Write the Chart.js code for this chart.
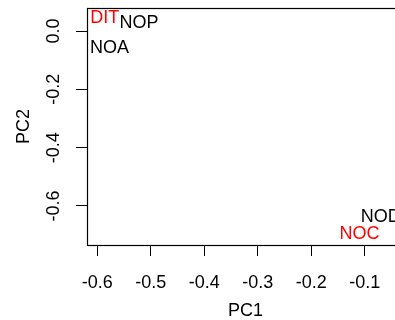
<!DOCTYPE html>
<html>
<head>
<meta charset="utf-8">
<script src="https://cdn.jsdelivr.net/npm/chart.js@4/dist/chart.umd.min.js"></script>
<style>
html,body{margin:0;padding:0;background:#fff;overflow:hidden;width:395px;height:320px;}
canvas{display:block;}
</style>
</head>
<body>
<canvas id="c" width="420" height="320" style="width:420px;height:320px"></canvas>
<script>
// Data
const names = ["DIT", "NOP", "NOA", "NOD", "NOC"];
const pc1 = [-0.586, -0.522, -0.577, -0.070, -0.110];
const pc2 = [0.044, 0.029, -0.059, -0.637, -0.698];
const labelColors = ["#ff0000", "#000000", "#000000", "#000000", "#ff0000"];
const xTicks = [-0.6, -0.5, -0.4, -0.3, -0.2, -0.1];
const yTicks = [0.0, -0.2, -0.4, -0.6];

const FONT = '"Liberation Sans", Arial, Helvetica, sans-serif';

const points = names.map((n, i) => ({x: pc1[i], y: pc2[i]}));

const boxPlugin = {
  id: 'boxAndLabels',
  afterDraw(chart) {
    const ctx = chart.ctx;
    const a = chart.chartArea;
    const ys = chart.scales.y;
    ctx.save();
    // plot box
    ctx.strokeStyle = '#000';
    ctx.lineWidth = 1.2;
    ctx.strokeRect(Math.round(a.left) + 0.5, Math.round(a.top) + 0.5,
                   Math.round(a.right - a.left), Math.round(a.bottom - a.top));
    // y tick labels, rotated like R
    ctx.fillStyle = '#000';
    ctx.font = '18px ' + FONT;
    ctx.textAlign = 'center';
    ctx.textBaseline = 'middle';
    yTicks.forEach(v => {
      const py = ys.getPixelForValue(v);
      ctx.save();
      ctx.translate(54, py);
      ctx.rotate(-Math.PI / 2);
      ctx.fillText(v.toFixed(1), 0, 0);
      ctx.restore();
    });
    // point labels
    const meta = chart.getDatasetMeta(0);
    meta.data.forEach((el, i) => {
      ctx.fillStyle = labelColors[i];
      ctx.fillText(names[i], el.x, el.y);
    });
    ctx.restore();
  }
};

new Chart(document.getElementById('c'), {
  type: 'scatter',
  data: {
    datasets: [{
      data: points,
      pointRadius: 0,
      pointHoverRadius: 0,
      showLine: false
    }]
  },
  options: {
    responsive: false,
    animation: false,
    events: [],
    layout: {padding: {top: 8, right: 16, left: 0, bottom: 0}},
    plugins: {legend: {display: false}, tooltip: {enabled: false}},
    scales: {
      x: {
        type: 'linear',
        min: -0.6193,
        max: -0.0267,
        afterBuildTicks: s => { s.ticks = xTicks.map(v => ({value: v})); },
        afterFit: s => { s.height = 75; },
        border: {display: false},
        grid: {drawOnChartArea: false, drawTicks: true, tickLength: 11, color: '#000', tickColor: '#000', lineWidth: 1},
        ticks: {
          color: '#000',
          font: {size: 18, family: FONT},
          padding: 16,
          maxRotation: 0,
          minRotation: 0,
          autoSkip: false,
          callback: v => Number(v).toFixed(1)
        },
        title: {display: true, text: 'PC1', color: '#000', font: {size: 18, family: FONT}, padding: {top: 0, bottom: -2}}
      },
      y: {
        type: 'linear',
        min: -0.734,
        max: 0.0789,
        afterBuildTicks: s => { s.ticks = yTicks.map(v => ({value: v})); },
        afterFit: s => { s.width = 87; },
        border: {display: false},
        grid: {drawOnChartArea: false, drawTicks: true, tickLength: 11, color: '#000', tickColor: '#000', lineWidth: 1},
        ticks: {display: false},
        title: {display: true, text: 'PC2', color: '#000', font: {size: 18, family: FONT}, padding: {top: 13, bottom: 0}}
      }
    }
  },
  plugins: [boxPlugin]
});
</script>
</body>
</html>
